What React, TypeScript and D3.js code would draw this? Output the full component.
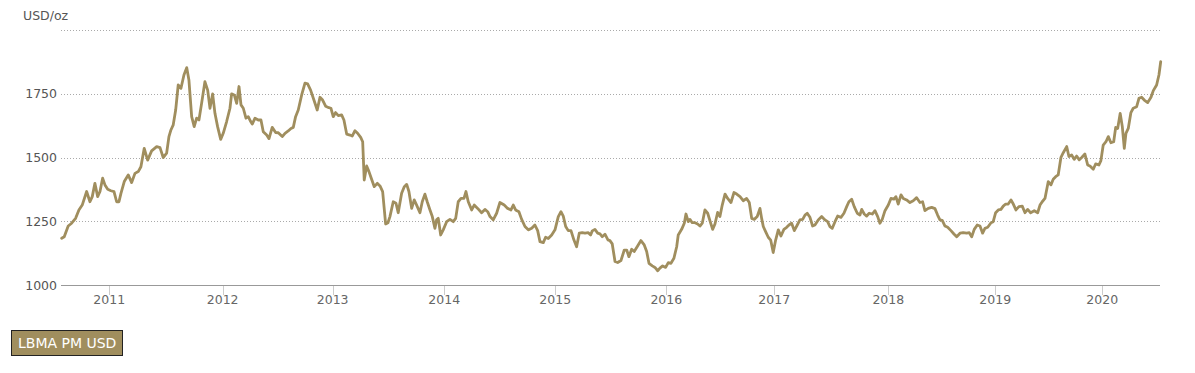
import React from "react";
import * as d3 from "d3";

// Decimal-year time stamps
const years = [
  2010.569, 2010.592, 2010.628, 2010.659, 2010.695, 2010.725, 2010.755, 2010.795, 2010.825, 2010.846,
  2010.870, 2010.895, 2010.916, 2010.940, 2010.961, 2010.986, 2011.015, 2011.043, 2011.067, 2011.088,
  2011.106, 2011.136, 2011.172, 2011.203, 2011.233, 2011.263, 2011.287, 2011.317, 2011.348, 2011.384,
  2011.430, 2011.460, 2011.489, 2011.520, 2011.541, 2011.559, 2011.580, 2011.602, 2011.625, 2011.650,
  2011.677, 2011.702, 2011.722, 2011.747, 2011.770, 2011.792, 2011.813, 2011.837, 2011.867, 2011.892,
  2011.913, 2011.937, 2011.958, 2011.982, 2012.010, 2012.033, 2012.064, 2012.094, 2012.109, 2012.133,
  2012.155, 2012.176, 2012.194, 2012.215, 2012.239, 2012.260, 2012.282, 2012.296, 2012.321, 2012.351,
  2012.375, 2012.396, 2012.427, 2012.448, 2012.477, 2012.508, 2012.532, 2012.568, 2012.593, 2012.622,
  2012.647, 2012.668, 2012.689, 2012.713, 2012.744, 2012.774, 2012.798, 2012.825, 2012.855, 2012.885,
  2012.910, 2012.934, 2012.961, 2012.991, 2013.009, 2013.030, 2013.052, 2013.076, 2013.106, 2013.127,
  2013.152, 2013.182, 2013.202, 2013.227, 2013.251, 2013.279, 2013.297, 2013.311, 2013.333, 2013.354,
  2013.378, 2013.402, 2013.429, 2013.454, 2013.478, 2013.505, 2013.526, 2013.544, 2013.574, 2013.599,
  2013.619, 2013.650, 2013.674, 2013.696, 2013.716, 2013.741, 2013.764, 2013.786, 2013.816, 2013.837,
  2013.861, 2013.882, 2013.907, 2013.928, 2013.952, 2013.967, 2013.982, 2014.004, 2014.027, 2014.058,
  2014.088, 2014.118, 2014.140, 2014.163, 2014.188, 2014.215, 2014.233, 2014.254, 2014.285, 2014.308,
  2014.339, 2014.375, 2014.405, 2014.430, 2014.451, 2014.480, 2014.511, 2014.541, 2014.580, 2014.611,
  2014.641, 2014.662, 2014.683, 2014.713, 2014.738, 2014.768, 2014.798, 2014.829, 2014.858, 2014.883,
  2014.904, 2014.934, 2014.955, 2014.979, 2015.010, 2015.040, 2015.070, 2015.094, 2015.115, 2015.137,
  2015.160, 2015.185, 2015.212, 2015.236, 2015.260, 2015.287, 2015.312, 2015.342, 2015.363, 2015.378,
  2015.402, 2015.427, 2015.448, 2015.468, 2015.493, 2015.520, 2015.538, 2015.559, 2015.584, 2015.608,
  2015.638, 2015.668, 2015.690, 2015.710, 2015.735, 2015.758, 2015.789, 2015.819, 2015.849, 2015.871,
  2015.892, 2015.922, 2015.946, 2015.971, 2015.991, 2016.016, 2016.043, 2016.067, 2016.091, 2016.118,
  2016.143, 2016.157, 2016.188, 2016.212, 2016.227, 2016.248, 2016.263, 2016.284, 2016.309, 2016.333,
  2016.354, 2016.375, 2016.399, 2016.424, 2016.447, 2016.469, 2016.490, 2016.514, 2016.535, 2016.556,
  2016.581, 2016.605, 2016.635, 2016.662, 2016.687, 2016.717, 2016.746, 2016.777, 2016.801, 2016.823,
  2016.846, 2016.873, 2016.898, 2016.913, 2016.928, 2016.949, 2016.973, 2016.995, 2017.018, 2017.040,
  2017.064, 2017.088, 2017.115, 2017.140, 2017.161, 2017.185, 2017.209, 2017.236, 2017.260, 2017.285,
  2017.306, 2017.326, 2017.351, 2017.375, 2017.396, 2017.426, 2017.457, 2017.487, 2017.511, 2017.532,
  2017.553, 2017.578, 2017.602, 2017.632, 2017.659, 2017.684, 2017.704, 2017.729, 2017.752, 2017.780,
  2017.804, 2017.820, 2017.843, 2017.865, 2017.888, 2017.916, 2017.940, 2017.965, 2017.985, 2018.006,
  2018.031, 2018.061, 2018.085, 2018.112, 2018.130, 2018.151, 2018.176, 2018.197, 2018.227, 2018.257,
  2018.287, 2018.318, 2018.348, 2018.372, 2018.393, 2018.423, 2018.454, 2018.484, 2018.508, 2018.529,
  2018.550, 2018.575, 2018.599, 2018.629, 2018.656, 2018.681, 2018.711, 2018.740, 2018.771, 2018.795,
  2018.817, 2018.840, 2018.867, 2018.892, 2018.916, 2018.937, 2018.962, 2018.992, 2019.012, 2019.034,
  2019.058, 2019.082, 2019.103, 2019.125, 2019.148, 2019.173, 2019.194, 2019.218, 2019.245, 2019.275,
  2019.300, 2019.324, 2019.351, 2019.384, 2019.415, 2019.436, 2019.456, 2019.481, 2019.511, 2019.535,
  2019.556, 2019.578, 2019.601, 2019.626, 2019.647, 2019.678, 2019.698, 2019.723, 2019.746, 2019.768,
  2019.792, 2019.814, 2019.843, 2019.868, 2019.889, 2019.919, 2019.940, 2019.970, 2019.988, 2020.009,
  2020.034, 2020.055, 2020.079, 2020.104, 2020.122, 2020.140, 2020.163, 2020.182, 2020.200, 2020.215,
  2020.236, 2020.260, 2020.281, 2020.312, 2020.333, 2020.357, 2020.381, 2020.412, 2020.442, 2020.463,
  2020.493, 2020.514, 2020.530,
];

// LBMA PM gold price, USD/oz
const prices = [
  1184, 1190, 1232, 1243, 1262, 1295, 1314, 1367, 1327, 1347,
  1399, 1347, 1367, 1419, 1393, 1376, 1370, 1367, 1327, 1327,
  1360, 1406, 1432, 1402, 1438, 1445, 1464, 1536, 1490, 1526,
  1543, 1539, 1500, 1517, 1582, 1608, 1628, 1686, 1784, 1771,
  1823, 1852, 1804, 1660, 1621, 1654, 1647, 1712, 1797, 1764,
  1693, 1749, 1673, 1621, 1571, 1595, 1641, 1693, 1749, 1745,
  1712, 1778, 1706, 1693, 1654, 1660, 1641, 1631, 1654, 1647,
  1647, 1601, 1588, 1574, 1618, 1598, 1597, 1582, 1595, 1604,
  1614, 1618, 1660, 1686, 1745, 1791, 1788, 1764, 1725, 1686,
  1736, 1725, 1701, 1695, 1693, 1660, 1676, 1664, 1667, 1647,
  1592, 1588, 1584, 1605, 1595, 1579, 1562, 1412, 1467, 1445,
  1415, 1386, 1399, 1389, 1367, 1240, 1245, 1269, 1327, 1321,
  1284, 1360, 1386, 1395, 1367, 1301, 1334, 1314, 1284, 1327,
  1357, 1327, 1295, 1269, 1223, 1256, 1262, 1197, 1217, 1249,
  1258, 1249, 1262, 1327, 1340, 1340, 1367, 1327, 1295, 1314,
  1301, 1284, 1297, 1288, 1269, 1256, 1282, 1324, 1314, 1301,
  1295, 1314, 1295, 1288, 1258, 1230, 1217, 1223, 1236, 1214,
  1171, 1167, 1188, 1183, 1197, 1217, 1269, 1288, 1271, 1230,
  1214, 1214, 1177, 1151, 1204, 1206, 1204, 1206, 1197, 1213,
  1219, 1204, 1201, 1190, 1200, 1178, 1175, 1162, 1093, 1089,
  1097, 1138, 1138, 1112, 1141, 1132, 1154, 1175, 1158, 1132,
  1086, 1076, 1070, 1057, 1067, 1076, 1070, 1089, 1086, 1106,
  1151, 1197, 1219, 1243, 1279, 1249, 1258, 1245, 1245, 1240,
  1232, 1243, 1295, 1282, 1249, 1219, 1240, 1285, 1269, 1314,
  1357, 1340, 1324, 1363, 1357, 1347, 1331, 1340, 1324, 1262,
  1258, 1269, 1301, 1262, 1230, 1210, 1188, 1177, 1128, 1177,
  1217, 1193, 1219, 1227, 1236, 1243, 1214, 1236, 1256, 1258,
  1275, 1282, 1266, 1232, 1236, 1256, 1269, 1256, 1249, 1230,
  1223, 1249, 1271, 1266, 1282, 1308, 1327, 1337, 1308, 1282,
  1275, 1297, 1279, 1271, 1282, 1279, 1292, 1269, 1243, 1258,
  1292, 1314, 1340, 1337, 1347, 1318, 1354, 1340, 1334, 1324,
  1331, 1343, 1324, 1327, 1292, 1301, 1305, 1300, 1275, 1256,
  1254, 1232, 1227, 1214, 1201, 1190, 1204, 1206, 1204, 1206,
  1190, 1219, 1236, 1232, 1204, 1223, 1227, 1245, 1249, 1284,
  1295, 1297, 1310, 1318, 1318, 1334, 1318, 1295, 1308, 1310,
  1284, 1297, 1284, 1292, 1284, 1314, 1327, 1340, 1406, 1393,
  1415, 1425, 1432, 1501, 1519, 1543, 1504, 1510, 1493, 1506,
  1491, 1500, 1514, 1471, 1467, 1454, 1475, 1471, 1488, 1549,
  1562, 1582, 1558, 1562, 1618, 1614, 1673, 1621, 1536, 1595,
  1614, 1676, 1693, 1699, 1732, 1736, 1725, 1715, 1736, 1762,
  1784, 1823, 1875,
];

// y gridlines (the top one carries no label)
const yTicks = [1000, 1250, 1500, 1750, 2000];
const yLabelled = [1000, 1250, 1500, 1750];
// year ticks: position of the first data point of each year
const xTickPos = [2011.0, 2012.028, 2013.025, 2014.036, 2015.042, 2016.049, 2017.027, 2018.061, 2019.03, 2020.0];
const xTickLabels = ["2011", "2012", "2013", "2014", "2015", "2016", "2017", "2018", "2019", "2020"];
const unitLabel = "USD/oz";
const seriesName = "LBMA PM USD";

const W = 1195;
const H = 373;
const LINE = "#a08e5e";
const FONT = "'DejaVu Sans', Verdana, sans-serif";

export default function App() {
  const data = years.map((t, i) => ({ t, v: prices[i] }));
  const x = d3
    .scaleLinear()
    .domain(d3.extent(years) as [number, number])
    .range([61.7, 1160.7]);
  const y = d3.scaleLinear().domain([1000, 2000]).range([285.3, 29.8]);
  const line = d3
    .line<{ t: number; v: number }>()
    .x((d) => x(d.t))
    .y((d) => y(d.v));

  const gridX0 = 61;
  const gridX1 = 1160;

  return (
    <svg
      width={W}
      height={H}
      style={{ position: "absolute", left: 0, top: 0, background: "#fff" }}
      fontFamily={FONT}
    >
      <text x={23} y={19.5} fontSize={12.5} fill="#555">
        {unitLabel}
      </text>
      {yTicks.map((v) =>
        v > 1000 ? (
          <line
            key={"g" + v}
            x1={gridX0}
            x2={gridX1}
            y1={Math.round(y(v)) + 0.5}
            y2={Math.round(y(v)) + 0.5}
            stroke="#aaa"
            strokeWidth={1}
            strokeDasharray="1,2"
          />
        ) : null
      )}
      {yLabelled.map((v) => (
        <text
          key={"l" + v}
          x={57}
          y={y(v)}
          dy="0.35em"
          textAnchor="end"
          fontSize={12.5}
          fill="#555"
        >
          {v}
        </text>
      ))}
      {xTickPos.map((t, i) => (
        <g key={t}>
          <line
            x1={Math.round(x(t)) + 0.5}
            x2={Math.round(x(t)) + 0.5}
            y1={285}
            y2={295}
            stroke="#ccc"
          />
          <text
            x={x(t)}
            y={304}
            textAnchor="middle"
            fontSize={12.5}
            fill="#666"
          >
            {xTickLabels[i]}
          </text>
        </g>
      ))}
      <line
        x1={gridX0}
        x2={gridX1}
        y1={285.5}
        y2={285.5}
        stroke="#999"
        strokeWidth={1}
      />
      <path
        d={line(data) || ""}
        fill="none"
        stroke={LINE}
        strokeWidth={2.8}
        strokeLinejoin="round"
        strokeLinecap="round"
      />
      <rect
        x={11.5}
        y={330.5}
        width={111}
        height={25}
        fill={LINE}
        stroke="#222"
        strokeWidth={1}
      />
      <text x={18} y={348} fontSize={14} fill="#fff">
        {seriesName}
      </text>
    </svg>
  );
}
